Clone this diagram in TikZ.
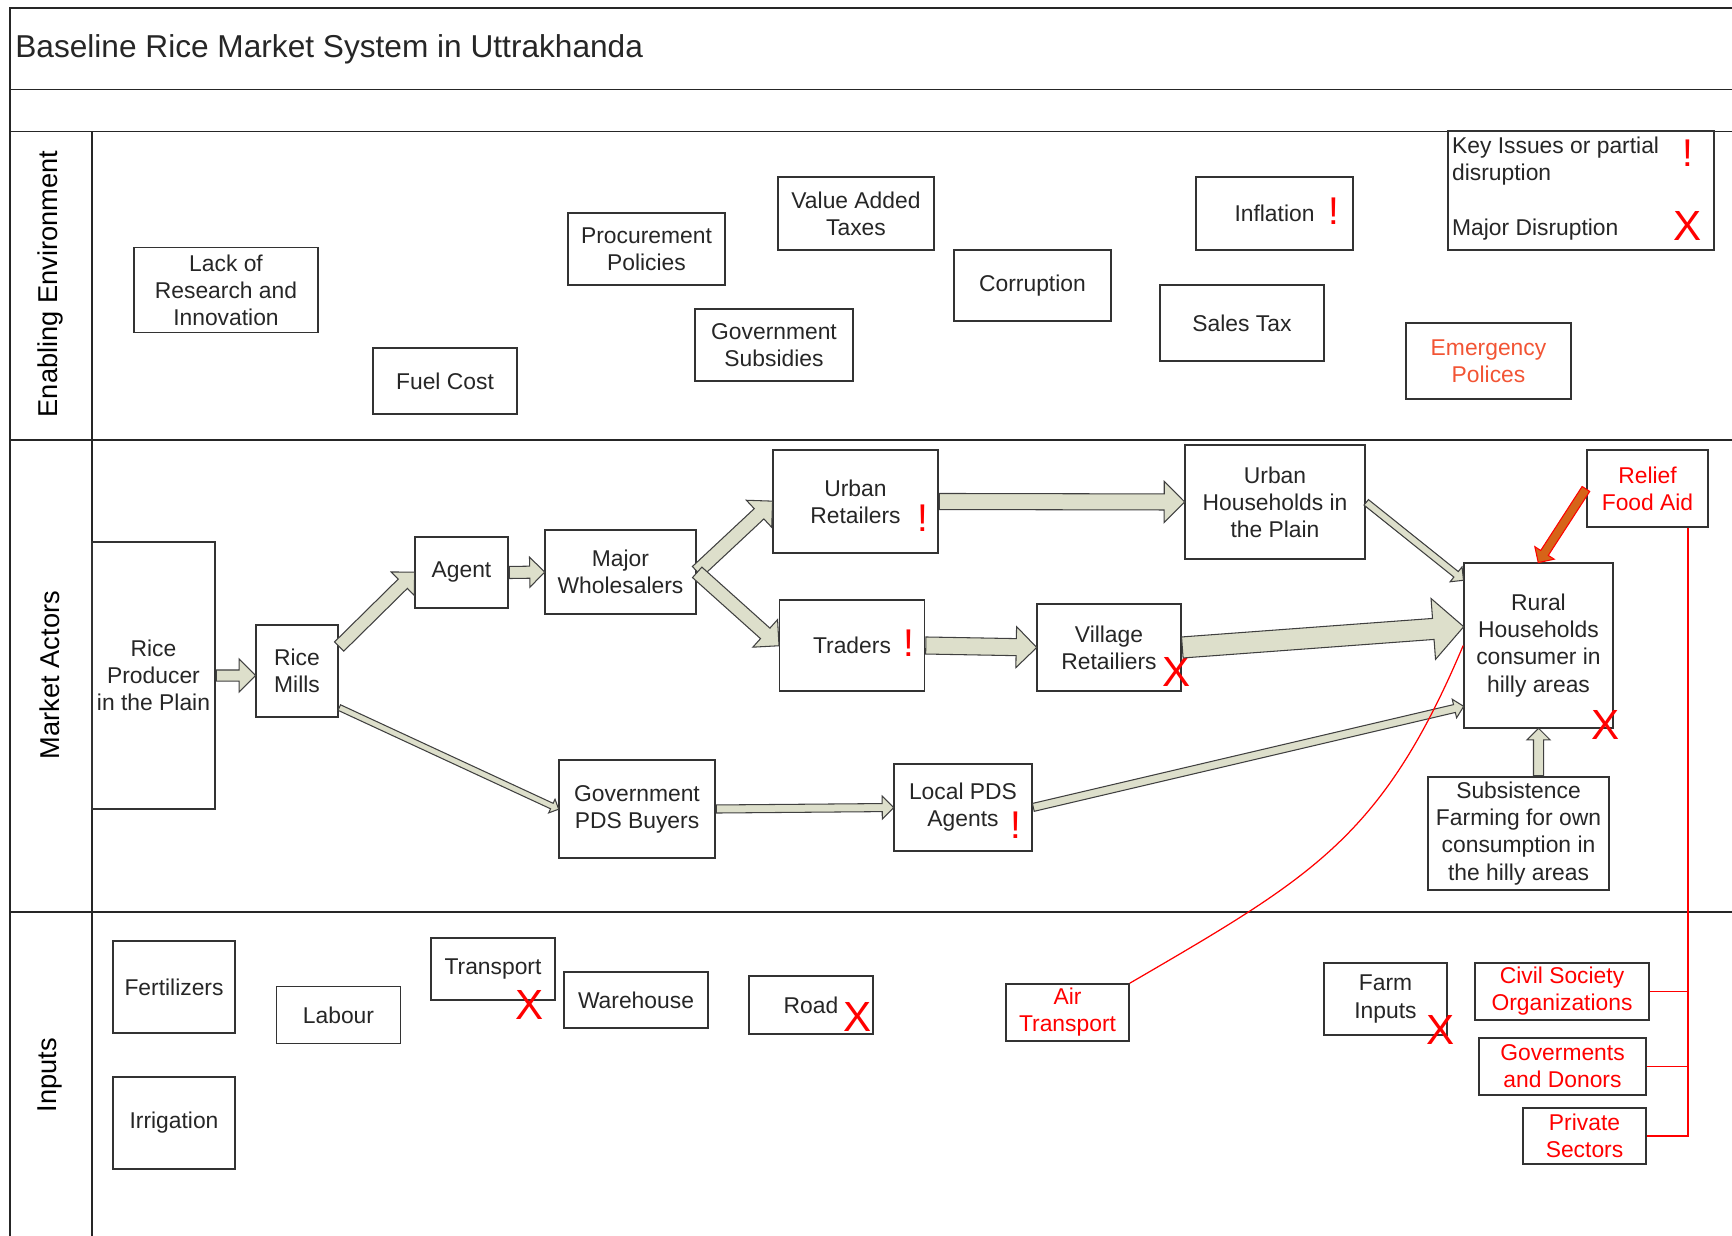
\documentclass[tikz,border=0pt]{standalone}
\usepackage{fontspec}
\setmainfont{Liberation Sans}
\usepackage{xcolor}
\usepackage{tikz}
\usetikzlibrary{calc,shapes.arrows}

\definecolor{flowfill}{RGB}{221,223,203}
\definecolor{reliefcol}{RGB}{214,100,24}
\definecolor{emergcol}{RGB}{242,84,52}

\tikzset{
  frame/.style={draw=black!85, line width=1.1pt},
  actor/.style={draw=black!80, line width=0.9pt, align=center, inner sep=1pt,
    text=black!85, font=\fontsize{13}{15.4}\selectfont},
  boxsize/.style 2 args={minimum width=#1*0.2mm, minimum height=#2*0.2mm},
  aid/.style={actor, text=red},
  lane/.style={rotate=90, font=\fontsize{15.5}{18}\selectfont},
  legendtext/.style={align=left, inner sep=1pt, text=black!85, font=\fontsize{13}{15.4}\selectfont},
  partialmark/.style={text=red, inner sep=0pt, font=\fontsize{22}{22}\selectfont},
  majormark/.style={text=red, inner sep=0pt, font=\fontsize{24}{24}\selectfont},
  flowbody/.style={single arrow, draw=black!75, fill=flowfill, line width=0.6pt,
    inner xsep=0pt, single arrow head indent=0pt},
  redline/.style={draw=red, line width=0.7pt}
}

% block arrow from #2 to #3, shaft width #4 and head width #5 (in px of the grid)
\newcommand{\flowarrow}[5][]{%
  \path let \p1=($(#3)-(#2)$), \n1={veclen(\x1,\y1)}, \n2={atan2(\y1,\x1)} in
    node[flowbody, rotate=\n2, anchor=tail, minimum height=\n1,
      inner ysep={#4*0.1mm}, single arrow head extend={(#5-#4)*0.1mm}, #1] at (#2) {};}

\begin{document}
\begin{tikzpicture}[x=0.2mm, y=-0.2mm]
\useasboundingbox (0,0) rectangle (1732,1236);

% frame and lanes
\draw[frame] (10,1236) -- (10,8) -- (1732,8);
\draw[frame] (10,89.5) -- (1732,89.5);
\draw[frame] (10,131.5) -- (1732,131.5);
\draw[frame] (10,440) -- (1732,440);
\draw[frame] (10,912) -- (1732,912);
\draw[frame] (92,131.5) -- (92,1236);

\node[anchor=west, inner sep=0pt, text=black!85, font=\fontsize{18}{21}\selectfont] (title) at (15,49)
  {Baseline Rice Market System in Uttrakhanda};
\node[lane] (laneenv) at (50,284) {Enabling Environment};
\node[lane] (laneact) at (50,675) {Market Actors};
\node[lane] (laneinp) at (50,1075) {Inputs};

% enabling environment
\node[actor, boxsize={184}{85}] (lackres) at (226,290) {Lack of\\Research and\\Innovation};
\node[actor, boxsize={144}{66}] (fuel) at (445,381) {Fuel Cost};
\node[actor, boxsize={157}{72}] (procure) at (646.5,249) {Procurement\\Policies};
\node[actor, boxsize={158}{72}] (subsid) at (774,345) {Government\\Subsidies};
\node[actor, boxsize={156}{73}] (vat) at (856,213.5) {Value Added\\Taxes};
\node[actor, boxsize={157}{71}] (corrupt) at (1032.5,285.5) {Corruption};
\node[actor, boxsize={157}{73}] (inflation) at (1274.5,213.5) {Inflation};
\node[actor, boxsize={164}{76}] (salestax) at (1242,323) {Sales Tax};
\node[actor, boxsize={165}{76}, text=emergcol] (emerg) at (1488.5,361) {Emergency\\Polices};

% legend
\node[actor, boxsize={266}{119}] (legend) at (1581,190.5) {};
\node[legendtext, anchor=west] (keytext) at (1450,161.5) {Key Issues or partial\\disruption};
\node[legendtext, anchor=west] (majortext) at (1450,230) {Major Disruption};
\node[partialmark] (keyflag) at (1688,153) {!};
\node[majormark] (keycross) at (1688,226) {X};

% market actors
\node[actor, boxsize={123}{267}] (prod) at (153.5,675.5) {Rice\\Producer\\in the Plain};
\node[actor, boxsize={82}{92}] (mills) at (297,671) {Rice\\Mills};
\node[actor, boxsize={93}{71}] (agent) at (461.5,572.5) {Agent};
\node[actor, boxsize={151}{84}] (wholesale) at (620.5,572) {Major\\Wholesalers};
\node[actor, boxsize={165}{103}] (urbret) at (855.5,501.5) {Urban\\Retailers};
\node[actor, boxsize={145}{91}] (traders) at (852,645.5) {Traders};
\node[actor, boxsize={144}{87}] (village) at (1109,647.5) {Village\\Retailiers};
\node[actor, boxsize={180}{114}] (urbhh) at (1275,502) {Urban\\Households in\\the Plain};
\node[actor, boxsize={149}{165}] (rural) at (1538.5,645.5) {Rural\\Households\\consumer in\\hilly areas};
\node[aid, boxsize={121}{77}] (relief) at (1647.5,488.5) {Relief\\Food Aid};
\node[actor, boxsize={181}{113}] (subs) at (1518.5,833.5) {Subsistence\\Farming for own\\consumption in\\the hilly areas};
\node[actor, boxsize={156}{98}] (govpds) at (637,809) {Government\\PDS Buyers};
\node[actor, boxsize={138}{87}] (localpds) at (963,807.5) {Local PDS\\Agents};

\node[partialmark] (inflationflag) at (1334,211) {!};
\node[partialmark] (urbretflag) at (923,518) {!};
\node[partialmark] (tradersflag) at (909,643) {!};
\node[partialmark] (localpdsflag) at (1016,825) {!};
\node[majormark] (villagecross) at (1177,672) {X};
\node[majormark] (ruralcross) at (1606,725) {X};

% inputs
\node[actor, boxsize={122}{92}] (fert) at (174,987) {Fertilizers};
\node[actor, boxsize={122}{92}] (irrig) at (174,1123) {Irrigation};
\node[actor, boxsize={124}{57}] (labour) at (338.5,1015) {Labour};
\node[actor, boxsize={124}{62}] (transport) at (493,969) {Transport};
\node[actor, boxsize={144}{56}] (warehouse) at (636,1000) {Warehouse};
\node[actor, boxsize={124}{58}] (road) at (811,1005) {Road};
\node[aid, boxsize={123}{57}] (air) at (1067.5,1012.5) {Air\\Transport};
\node[actor, boxsize={123}{72}] (farm) at (1385.5,999) {Farm\\Inputs};
\node[aid, boxsize={174}{57}] (civil) at (1562,991.5) {Civil Society\\Organizations};
\node[aid, boxsize={167}{57}] (donors) at (1562.5,1066.5) {Goverments\\and Donors};
\node[aid, boxsize={123}{56}] (private) at (1584.5,1136) {Private\\Sectors};

\node[majormark] (transportcross) at (530,1005) {X};
\node[majormark] (roadcross) at (858,1017) {X};
\node[majormark] (farmcross) at (1441,1030) {X};

% flows
\coordinate (prodtip) at (mills.west |- prod.east);
\coordinate (subsin) at (subs.north -| rural.south);
\flowarrow{prod.east}{prodtip}{10}{32}
\flowarrow{mills.30}{agent.west}{12}{32}
\flowarrow{agent.east}{wholesale.west}{11}{29}
\flowarrow{wholesale.east}{urbret.west}{13}{36}
\flowarrow{wholesale.east}{traders.west}{13}{36}
\flowarrow{urbret.east}{urbhh.west}{15}{40}
\flowarrow{traders.east}{village.west}{16}{40}
\flowarrow{village.east}{rural.166}{20}{60}
\flowarrow{urbhh.east}{rural.139}{6}{18}
\flowarrow{mills.319}{govpds.west}{5}{14}
\flowarrow{govpds.east}{localpds.west}{7}{22}
\flowarrow{localpds.east}{rural.219}{7}{18}
\flowarrow{subsin}{rural.south}{9}{22}
\flowarrow[fill=reliefcol, draw=red]{relief.west}{rural.north}{8}{22}

% aid links
\coordinate (aidcorner) at (1688,1136);
\draw[redline] (relief.south -| aidcorner) -- (aidcorner) -- (private.east);
\draw[redline] (civil.east) -- (civil.east -| aidcorner);
\draw[redline] (donors.east) -- (donors.east -| aidcorner);
\draw[redline] (air.north east) .. controls (1312,877) and (1382,838) .. (rural.west);
\end{tikzpicture}
\end{document}
